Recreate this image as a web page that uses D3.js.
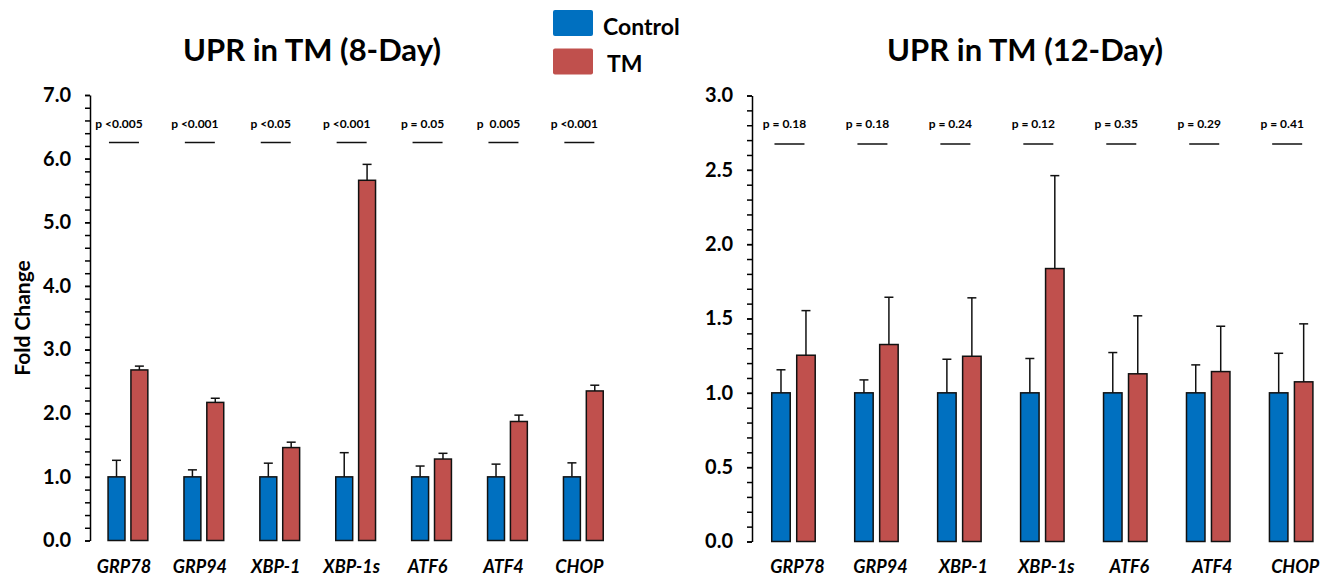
<!DOCTYPE html>
<html>
<head>
<meta charset="utf-8">
<script src="https://cdn.jsdelivr.net/npm/d3@7"></script>
<style>
  body { margin: 0; background: #fff; }
  svg { display: block; font-family: Lato, "Open Sans", sans-serif; font-weight: bold; }
</style>
</head>
<body>
<svg id="chart"></svg>
<script>
// genes and groups
var genes = ["GRP78", "GRP94", "XBP-1", "XBP-1s", "ATF6", "ATF4", "CHOP"];
var series = ["Control", "TM"];
var colors = { Control: "#0070C0", TM: "#C0504D" };

// 8-day values (fold change, mean and error)
var day8Control = [1, 1, 1, 1, 1, 1, 1];
var day8ControlErr = [0.26, 0.11, 0.215, 0.38, 0.17, 0.2, 0.22];
var day8TM = [2.68, 2.17, 1.46, 5.66, 1.28, 1.87, 2.35];
var day8TMErr = [0.06, 0.065, 0.085, 0.25, 0.09, 0.1, 0.09];
var day8P = ["p <0.005", "p <0.001", "p <0.05", "p <0.001", "p = 0.05", "p  0.005", "p <0.001"];

// 12-day values
var day12Control = [1, 1, 1, 1, 1, 1, 1];
var day12ControlErr = [0.155, 0.087, 0.226, 0.231, 0.271, 0.188, 0.266];
var day12TM = [1.253, 1.325, 1.246, 1.836, 1.128, 1.143, 1.074];
var day12TMErr = [0.3, 0.318, 0.393, 0.625, 0.39, 0.305, 0.39];
var day12P = ["p = 0.18", "p = 0.18", "p = 0.24", "p = 0.12", "p = 0.35", "p = 0.29", "p = 0.41"];

var svg = d3.select("#chart").attr("width", 1338).attr("height", 579);

function drawPanel(cfg) {
  var x = d3.scaleBand().domain(genes).range([cfg.left, cfg.left + cfg.step * genes.length]);
  var y = d3.scaleLinear().domain([0, cfg.max]).range([cfg.bottom, cfg.top]);
  var half = x.step() * 0.262;
  var inner = d3.scaleBand().domain(series).range([-half, half]).paddingInner(0.26);

  var rows = genes.map(function(g, i) {
    return {
      gene: g, p: cfg.p[i],
      vals: [
        { s: "Control", v: cfg.control[i], e: cfg.controlErr[i] },
        { s: "TM", v: cfg.tm[i], e: cfg.tmErr[i] }
      ]
    };
  });
  var cx = function(g) { return x(g) + x.bandwidth() / 2; };

  var g = svg.append("g");

  // minor ticks
  g.append("g")
    .attr("transform", "translate(" + cfg.left + ",0)")
    .call(d3.axisLeft(y).tickValues(d3.range(0, cfg.max + 1e-9, cfg.minor)).tickSize(5).tickFormat(""))
    .call(function(a) { a.select(".domain").remove(); })
    .selectAll("line").attr("stroke", "#000").attr("stroke-width", 1.5);

  // major axis
  var ax = g.append("g")
    .attr("transform", "translate(" + cfg.left + ",0)")
    .call(d3.axisLeft(y).tickValues(d3.range(0, cfg.max + 1e-9, cfg.major)).tickSize(5).tickSizeOuter(0).tickPadding(14).tickFormat(d3.format(".1f")));
  ax.select(".domain").attr("stroke", "#000").attr("stroke-width", 1.5);
  ax.selectAll("line").attr("stroke", "#000").attr("stroke-width", 1.5);
  ax.selectAll("text").attr("font-size", "20px").attr("font-family", "Lato").attr("font-weight", "bold").attr("fill", "#000");

  var grp = g.selectAll(".grp").data(rows).enter().append("g")
    .attr("transform", function(d) { return "translate(" + cx(d.gene) + ",0)"; });

  // bars
  grp.selectAll("rect").data(function(d) { return d.vals; }).enter().append("rect")
    .attr("x", function(d) { return inner(d.s); })
    .attr("y", function(d) { return y(d.v); })
    .attr("width", inner.bandwidth())
    .attr("height", function(d) { return y(0) - y(d.v); })
    .attr("fill", function(d) { return colors[d.s]; })
    .attr("stroke", "#111")
    .attr("stroke-width", 1.5);

  // error bars
  var eb = grp.selectAll(".err").data(function(d) { return d.vals; }).enter().append("g");
  eb.append("line")
    .attr("x1", function(d) { return inner(d.s) + inner.bandwidth() / 2; })
    .attr("x2", function(d) { return inner(d.s) + inner.bandwidth() / 2; })
    .attr("y1", function(d) { return y(d.v); })
    .attr("y2", function(d) { return y(d.v + d.e); })
    .attr("stroke", "#111").attr("stroke-width", 1.5);
  eb.append("line")
    .attr("x1", function(d) { return inner(d.s) + inner.bandwidth() / 2 - 4.5; })
    .attr("x2", function(d) { return inner(d.s) + inner.bandwidth() / 2 + 4.5; })
    .attr("y1", function(d) { return y(d.v + d.e); })
    .attr("y2", function(d) { return y(d.v + d.e); })
    .attr("stroke", "#111").attr("stroke-width", 1.5);

  // p values
  grp.append("text")
    .attr("x", -9)
    .attr("y", 127.5)
    .attr("text-anchor", "middle")
    .attr("font-size", "12px")
    .style("white-space", "pre")
    .text(function(d) { return d.p; });
  grp.append("line")
    .attr("x1", -19).attr("x2", 11)
    .attr("y1", cfg.lineY).attr("y2", cfg.lineY)
    .attr("stroke", "#111").attr("stroke-width", 1.5);

  // gene labels
  grp.append("text")
    .attr("x", cfg.labelShift)
    .attr("y", 573)
    .attr("text-anchor", "middle")
    .attr("font-size", "18px")
    .attr("font-style", "italic")
    .text(function(d) { return d.gene; });

  // title
  svg.append("text")
    .attr("x", cfg.titleX)
    .attr("y", 61)
    .attr("text-anchor", "middle")
    .attr("font-size", "31px")
    .text(cfg.title);
}

drawPanel({
  left: 90, step: 75.9, top: 95, bottom: 540.5, max: 7, major: 1, minor: 0.2,
  control: day8Control, controlErr: day8ControlErr, tm: day8TM, tmErr: day8TMErr, p: day8P,
  lineY: 142.5, labelShift: -4, titleX: 312, title: "UPR in TM (8-Day)"
});

drawPanel({
  left: 752, step: 82.95, top: 95.5, bottom: 541.5, max: 3, major: 0.5, minor: 0.1,
  control: day12Control, controlErr: day12ControlErr, tm: day12TM, tmErr: day12TMErr, p: day12P,
  lineY: 144, labelShift: 4, titleX: 1025, title: "UPR in TM (12-Day)"
});

// y label
svg.append("text")
  .attr("transform", "rotate(-90)")
  .attr("x", -318)
  .attr("y", 30)
  .attr("text-anchor", "middle")
  .attr("font-size", "21px")
  .text("Fold Change");

// legend
var legend = svg.append("g");
legend.selectAll("rect").data(series).enter().append("rect")
  .attr("x", 553)
  .attr("y", function(d, i) { return 10 + i * 38.5; })
  .attr("width", 40).attr("height", 26).attr("rx", 2)
  .attr("fill", function(d) { return colors[d]; });
legend.selectAll("text").data(series).enter().append("text")
  .attr("x", function(d, i) { return i === 0 ? 603 : 607; })
  .attr("y", function(d, i) { return 35 + i * 36.5; })
  .attr("font-size", "23px")
  .text(function(d) { return d; });
</script>
</body>
</html>
